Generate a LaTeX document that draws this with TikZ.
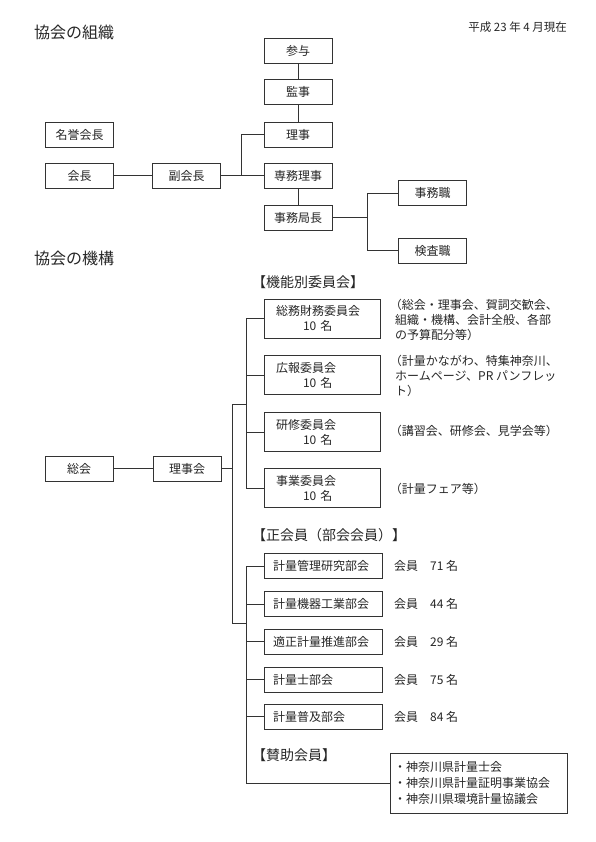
\documentclass[tikz,border=0pt]{standalone}
\usepackage{fontspec}
\setmainfont{Noto Sans CJK JP}
\usepackage{tikz}
\usetikzlibrary{positioning,calc}

\begin{document}
\begin{tikzpicture}[x=1pt,y=-1pt,font=\fontsize{12}{15}\selectfont,color=black!85,
 box/.style={draw=black!80,line width=0.6pt,minimum width=68pt,%
   minimum height=25pt,inner sep=0pt,align=center},
 ibox/.style={box,minimum width=116pt,minimum height=39pt,text width=92pt,%
   align=left,inner xsep=12pt},
 bbox/.style={box,minimum width=118pt,minimum height=25pt,text width=100pt,%
   align=left,inner xsep=9pt},
 note/.style={anchor=west,align=left,inner sep=0pt,font=\fontsize{12}{14.7}\selectfont},
 head/.style={anchor=west,inner sep=0pt,font=\fontsize{14}{16}\selectfont},
 title/.style={anchor=west,inner sep=0pt,font=\fontsize{16}{18}\selectfont},
 line/.style={draw=black!80,line width=0.6pt}]
\useasboundingbox (0,0) rectangle (596,842);
\node[title] (t1) at (34,32) {協会の組織};
\node[anchor=east,inner sep=0pt,font=\fontsize{11.5}{14}\selectfont] (date) at (567,27) {平成 23 年 4 月現在};
\node[box] (meiyo) at (79.5,135) {名誉会長};
\node[box] (kaichou) at (79.5,175.5) {会長};
\node[box] (fuku) at (186.5,175.5) {副会長};
\node[box] (sanyo) at (298,50.5) {参与};
\node[box] (kanji) at (298,92) {監事};
\node[box] (riji) at (298,134.5) {理事};
\node[box] (senmu) at (298,175.5) {専務理事};
\node[box] (jimu) at (298,217.5) {事務局長};
\node[box] (shoku) at (432.5,193) {事務職};
\node[box] (kensa) at (432.5,250.5) {検査職};
\draw[line] (kaichou)--(fuku)--(senmu);%
\draw[line] (sanyo)--(kanji)--(riji);%
\draw[line] (senmu)--(jimu);%
\draw[line] (riji.west)--++(-22,0) |- (senmu.west);%
\draw[line] (jimu.east)--++(35,0) coordinate (j);%
\draw[line] (shoku.west) -| (j) |- (kensa.west);
\node[title] (t2) at (34,258) {協会の機構};
\node[box] (soukai) at (79,468.5) {総会};
\node[box] (rijikai) at (187,468.5) {理事会};
\node[head] (h1) at (252,282) {【機能別委員会】};
\node[ibox] (soumu) at (322,318.5) {総務財務委員会\\\hspace*{27pt}10 名};
\node[ibox] (kouhou) at (322,375) {広報委員会\\\hspace*{27pt}10 名};
\node[ibox] (kenshu) at (322,432) {研修委員会\\\hspace*{27pt}10 名};
\node[ibox] (jigyou) at (322,488) {事業委員会\\\hspace*{27pt}10 名};
\node[note] (n1) at (395,320) {\kern-0.45em（総会・理事会、賀詞交歓会、\\組織・機構、会計全般、各部\\の予算配分等）};
\node[note] (n2) at (395,376) {\kern-0.45em（計量かながわ、特集神奈川、\\ホームページ、PR パンフレッ\\ト）};
\node[note] (n3) at (395,431) {\kern-0.45em（講習会、研修会、見学会等）};
\node[note] (n4) at (395,489) {\kern-0.45em（計量フェア等）};
\node[head] (h2) at (252,535) {【正会員（部会会員）】};
\node[bbox] (kanri) at (323,566) {計量管理研究部会};
\node[bbox] (kiki) at (323,604) {計量機器工業部会};
\node[bbox] (tekisei) at (323,641.5) {適正計量推進部会};
\node[bbox] (keiryoushi) at (323,679.5) {計量士部会};
\node[bbox] (fukyu) at (323,716.5) {計量普及部会};
\node[note] (m1) at (394,566) {会員　71 名};
\node[note] (m2) at (394,604) {会員　44 名};
\node[note] (m3) at (394,641.5) {会員　29 名};
\node[note] (m4) at (394,679.5) {会員　75 名};
\node[note] (m5) at (394,716.5) {会員　84 名};
\node[head] (h3) at (252,755) {【賛助会員】};
\node[box,minimum width=177pt,minimum height=60pt,text width=169pt,align=left,%
  inner xsep=4pt,font=\fontsize{12}{16}\selectfont] (sanjo) at (478.5,783)
  {・神奈川県計量士会\\・神奈川県計量証明事業協会\\・神奈川県環境計量協議会};
\coordinate (u1) at (232,404);
\coordinate (u2) at (232,623);
\draw[line] (soukai)--(rijikai);%
\draw[line] (rijikai.east)--(rijikai.east -| u1);%
\draw[line] (u1)--(u2);%
\draw[line] (u1)--++(15,0);%
\draw[line] (u2)--++(15,0);%
\draw[line] (soumu.west)--++(-17,0) |- (jigyou.west);%
\draw[line] (kouhou.west)--++(-17,0);%
\draw[line] (kenshu.west)--++(-17,0);%
\draw[line] (kanri.west)--++(-17,0) |- (sanjo.west);%
\draw[line] (kiki.west)--++(-17,0);%
\draw[line] (tekisei.west)--++(-17,0);%
\draw[line] (keiryoushi.west)--++(-17,0);%
\draw[line] (fukyu.west)--++(-17,0);
\end{tikzpicture}
\end{document}
